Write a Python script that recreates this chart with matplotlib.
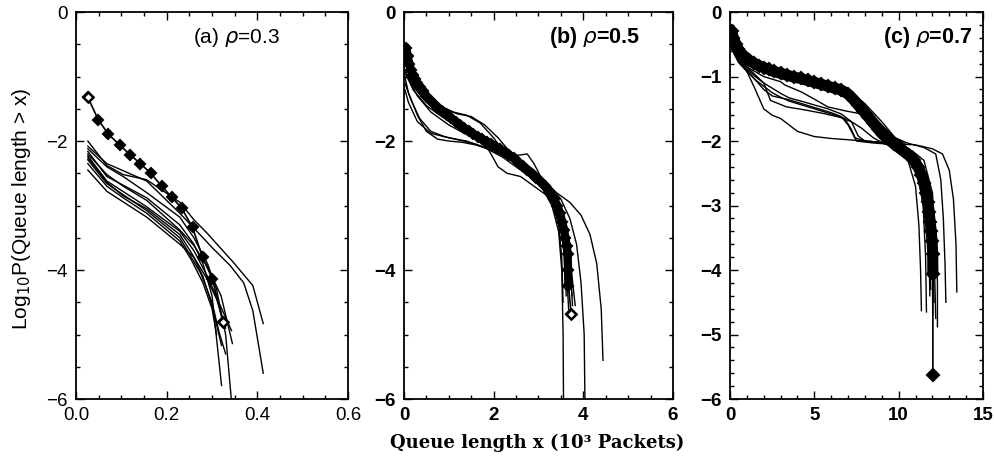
import matplotlib
matplotlib.use("Agg")
import matplotlib.pyplot as plt
from matplotlib.ticker import MultipleLocator, FixedLocator

# ---------------- data ----------------
# Panel (a) rho = 0.3  (x in 10^3 packets)
A_MEAN_X = [0.026, 0.049, 0.071, 0.096, 0.119, 0.142, 0.165, 0.189, 0.211, 0.233, 0.257, 0.279, 0.301, 0.324]
A_MEAN_Y = [-1.32, -1.67, -1.89, -2.06, -2.21, -2.35, -2.50, -2.70, -2.87, -3.04, -3.34, -3.80, -4.14, -4.81]

A_LINES_X = [
    [0.026, 0.068, 0.104, 0.156, 0.229, 0.260, 0.288, 0.347, 0.390, 0.413],
    [0.026, 0.068, 0.156, 0.229, 0.260, 0.300, 0.340, 0.370, 0.390, 0.413],
    [0.026, 0.068, 0.104, 0.156, 0.229, 0.260, 0.290, 0.310, 0.330, 0.345],
    [0.026, 0.068, 0.156, 0.229, 0.260, 0.280, 0.300, 0.321],
    [0.026, 0.068, 0.104, 0.156, 0.229, 0.260, 0.290, 0.320, 0.345],
    [0.026, 0.068, 0.156, 0.229, 0.260, 0.290, 0.315, 0.343],
    [0.026, 0.068, 0.104, 0.156, 0.229, 0.256, 0.280, 0.300, 0.321],
    [0.026, 0.068, 0.156, 0.229, 0.250, 0.275, 0.300, 0.315, 0.330],
    [0.026, 0.068, 0.104, 0.156, 0.229, 0.255, 0.280, 0.300, 0.310],
    [0.026, 0.068, 0.156, 0.229, 0.260, 0.290, 0.310, 0.330],
]
A_LINES_Y = [
    [-2.00, -2.38, -2.52, -2.60, -2.95, -3.22, -3.42, -3.88, -4.24, -4.83],
    [-2.08, -2.35, -2.62, -3.12, -3.35, -3.65, -3.93, -4.20, -4.63, -5.60],
    [-2.12, -2.40, -2.55, -2.80, -3.18, -3.50, -3.90, -4.30, -5.00, -6.20],
    [-2.16, -2.55, -2.88, -3.30, -3.60, -3.90, -4.40, -5.79],
    [-2.20, -2.52, -2.70, -2.92, -3.38, -3.62, -3.95, -4.40, -5.14],
    [-2.23, -2.62, -3.02, -3.40, -3.70, -4.10, -4.50, -4.94],
    [-2.26, -2.64, -2.85, -3.05, -3.45, -3.75, -4.10, -4.55, -5.17],
    [-2.29, -2.66, -3.08, -3.50, -3.75, -4.05, -4.50, -4.95, -5.30],
    [-2.35, -2.70, -2.88, -3.12, -3.55, -3.85, -4.20, -4.60, -5.00],
    [-2.45, -2.78, -3.18, -3.60, -3.80, -4.15, -4.45, -4.90],
]

# Panel (b) rho = 0.5
B_MEAN_X = [0.05, 0.08, 0.12, 0.16, 0.20, 0.25, 0.30, 0.36, 0.42, 0.50, 0.58, 0.66, 0.75, 0.85, 0.95,
            1.05, 1.15, 1.25, 1.35, 1.45, 1.55, 1.65, 1.75, 1.85, 1.95, 2.05, 2.15, 2.25, 2.35, 2.45,
            2.55, 2.65, 2.75, 2.85, 2.95, 3.05, 3.15, 3.25, 3.35, 3.42, 3.48, 3.53, 3.57, 3.60, 3.63,
            3.65, 3.66, 3.67, 3.73]
B_MEAN_Y = [-0.55, -0.68, -0.80, -0.90, -0.97, -1.04, -1.10, -1.16, -1.22, -1.30, -1.36, -1.42, -1.48, -1.54, -1.60,
            -1.65, -1.70, -1.75, -1.80, -1.85, -1.89, -1.93, -1.97, -2.01, -2.05, -2.09, -2.13, -2.17, -2.22, -2.27,
            -2.33, -2.39, -2.45, -2.51, -2.57, -2.63, -2.70, -2.79, -2.90, -3.00, -3.12, -3.25, -3.38, -3.50, -3.62,
            -3.75, -4.00, -4.25, -4.68]

B_LINES_X = [
    [0.02, 0.10, 0.30, 0.50, 0.75, 1.00, 1.30, 1.60, 2.00, 2.40, 2.80, 3.10, 3.30, 3.45, 3.52, 3.55, 3.56],
    [0.02, 0.15, 0.35, 0.60, 0.90, 1.20, 1.60, 2.00, 2.40, 2.80, 3.10, 3.30, 3.45, 3.52, 3.55],
    [0.02, 0.20, 0.50, 0.90, 1.20, 1.50, 1.80, 2.10, 2.40, 2.60, 2.90, 3.20, 3.50, 3.70, 3.85, 3.95, 4.02, 4.04],
    [0.02, 0.20, 0.50, 1.00, 1.50, 2.00, 2.50, 2.80, 3.10, 3.40, 3.70, 3.95, 4.15, 4.30, 4.40, 4.44],
    [0.02, 0.20, 0.50, 0.80, 1.20, 1.60, 2.00, 2.30, 2.55, 2.75, 2.90, 3.05, 3.30, 3.50, 3.62, 3.70, 3.78, 3.82],
    [0.02, 0.20, 0.50, 0.80, 1.20, 1.60, 1.90, 2.10, 2.30, 2.60, 2.90, 3.20, 3.45, 3.60, 3.70, 3.75],
    [0.02, 0.10, 0.30, 0.60, 1.00, 1.40, 1.80, 2.20, 2.60, 3.00, 3.30, 3.50, 3.60, 3.65, 3.68],
    [0.02, 0.20, 0.50, 0.80, 1.10, 1.40, 1.70, 2.00, 2.30, 2.60, 2.90, 3.20, 3.40, 3.55, 3.65, 3.72, 3.76],
    [0.02, 0.30, 0.60, 1.00, 1.40, 1.80, 2.20, 2.60, 3.00, 3.30, 3.50, 3.60, 3.65],
    [0.02, 0.30, 0.60, 1.00, 1.50, 2.00, 2.50, 3.00, 3.30, 3.50, 3.58, 3.62],
]
B_LINES_Y = [
    [-1.00, -1.25, -1.60, -1.85, -1.97, -2.00, -2.02, -2.06, -2.15, -2.30, -2.50, -2.75, -3.00, -3.40, -4.00, -5.00, -6.20],
    [-1.10, -1.35, -1.65, -1.85, -1.93, -1.98, -2.05, -2.15, -2.30, -2.50, -2.70, -2.95, -3.30, -3.80, -4.50],
    [-0.80, -1.10, -1.35, -1.50, -1.58, -1.62, -1.75, -1.95, -2.20, -2.30, -2.45, -2.65, -2.90, -3.20, -3.60, -4.20, -5.00, -6.20],
    [-0.90, -1.15, -1.40, -1.65, -1.85, -2.05, -2.25, -2.40, -2.60, -2.80, -2.95, -3.15, -3.45, -3.90, -4.60, -5.40],
    [-0.70, -1.00, -1.30, -1.50, -1.70, -1.90, -2.05, -2.20, -2.22, -2.20, -2.35, -2.55, -2.80, -3.10, -3.40, -3.80, -4.30, -4.55],
    [-0.90, -1.20, -1.45, -1.60, -1.78, -1.95, -2.15, -2.40, -2.50, -2.55, -2.70, -2.85, -3.10, -3.50, -4.00, -4.40],
    [-1.20, -1.40, -1.70, -1.88, -1.95, -2.00, -2.10, -2.25, -2.45, -2.65, -2.90, -3.30, -3.80, -4.30, -4.70],
    [-0.80, -1.05, -1.30, -1.45, -1.55, -1.60, -1.72, -1.95, -2.25, -2.40, -2.55, -2.75, -3.00, -3.30, -3.70, -4.10, -4.55],
    [-0.95, -1.30, -1.55, -1.75, -1.90, -2.02, -2.15, -2.35, -2.60, -2.85, -3.20, -3.60, -4.20],
    [-0.75, -1.15, -1.42, -1.65, -1.90, -2.08, -2.30, -2.60, -2.90, -3.30, -3.80, -4.40],
]

# Panel (c) rho = 0.7
C_MEAN_X = [0.10, 0.20, 0.35, 0.50, 0.70, 0.90, 1.10, 1.40, 1.70, 2.00, 2.30, 2.60, 3.00, 3.40, 3.80,
            4.20, 4.60, 5.00, 5.40, 5.80, 6.20, 6.60, 7.00, 7.30, 7.60, 7.90, 8.20, 8.50, 8.80, 9.10,
            9.40, 9.70, 10.00, 10.30, 10.60, 10.90, 11.15, 11.35, 11.50, 11.62, 11.72, 11.80, 11.87,
            11.93, 11.98, 12.02, 12.03, 12.03]
C_MEAN_Y = [-0.30, -0.40, -0.50, -0.58, -0.65, -0.70, -0.74, -0.79, -0.83, -0.86, -0.89, -0.92, -0.95, -0.98, -1.01,
            -1.03, -1.06, -1.09, -1.12, -1.15, -1.18, -1.21, -1.27, -1.35, -1.44, -1.53, -1.62, -1.72, -1.82, -1.90,
            -1.97, -2.04, -2.10, -2.16, -2.22, -2.30, -2.40, -2.52, -2.65, -2.80, -2.95, -3.10, -3.25,
            -3.40, -3.55, -3.75, -4.06, -5.62]

C_LINES_X = [
    [0.05, 0.5, 1.0, 1.5, 2.0, 2.5, 3.0, 3.5, 4.0, 5.0, 6.0, 7.0, 8.0, 9.0, 10.0, 10.5, 11.0, 11.2, 11.3, 11.35],
    [0.05, 0.5, 1.0, 1.5, 2.0, 2.5, 3.0, 3.5, 4.0, 5.0, 6.0, 6.6, 7.0, 7.4, 8.0, 9.0, 10.0, 10.6, 11.1, 11.45, 11.6, 11.65],
    [0.05, 0.5, 1.0, 1.5, 2.0, 2.5, 3.0, 3.5, 4.0, 5.0, 6.0, 6.8, 7.2, 7.5, 8.5, 9.5, 10.5, 11.2, 11.6, 11.8, 11.85],
    [0.05, 0.5, 1.0, 1.5, 2.0, 2.5, 3.0, 3.5, 4.2, 5.0, 5.8, 6.6, 7.2, 7.6, 8.0, 9.0, 10.0, 10.8, 11.5, 11.9, 12.0, 12.02],
    [0.05, 0.5, 1.0, 2.0, 3.0, 3.25, 4.24, 5.0, 5.8, 6.8, 7.6, 8.2, 8.76, 9.5, 10.3, 11.0, 11.6, 11.9, 12.05, 12.1],
    [0.05, 1.0, 2.0, 2.4, 3.35, 4.5, 5.5, 6.5, 7.2, 7.8, 8.5, 9.2, 10.0, 10.8, 11.5, 12.0, 12.2, 12.3, 12.3],
    [0.05, 0.5, 1.0, 2.0, 3.0, 4.0, 5.0, 6.0, 7.0, 8.0, 9.0, 9.8, 10.5, 11.5, 12.2, 12.5, 12.65, 12.75, 12.8],
    [0.05, 0.5, 1.0, 2.0, 3.0, 4.0, 5.0, 6.0, 7.0, 8.0, 9.0, 9.8, 10.4, 11.0, 12.0, 12.6, 13.0, 13.25, 13.4, 13.45],
    [0.05, 0.5, 1.0, 2.0, 3.0, 4.0, 5.0, 6.0, 7.0, 7.5, 8.0, 8.5, 9.0, 9.5, 10.0, 10.5, 11.0, 11.4, 11.7, 11.85, 11.9],
    [0.05, 0.5, 1.0, 2.0, 3.0, 4.0, 5.0, 6.0, 7.0, 7.5, 8.0, 8.5, 9.0, 9.5, 10.0, 10.6, 11.2, 11.7, 12.0, 12.15, 12.2],
]
C_LINES_Y = [
    [-0.50, -0.75, -0.92, -1.20, -1.50, -1.60, -1.65, -1.75, -1.85, -1.93, -1.96, -1.98, -2.00, -2.02, -2.10, -2.25, -2.70, -3.30, -4.00, -4.63],
    [-0.55, -0.78, -0.92, -1.05, -1.20, -1.30, -1.33, -1.36, -1.40, -1.48, -1.56, -1.62, -1.75, -1.95, -2.00, -2.02, -2.08, -2.20, -2.45, -3.00, -3.80, -4.65],
    [-0.50, -0.75, -0.90, -1.05, -1.15, -1.25, -1.32, -1.38, -1.42, -1.50, -1.58, -1.65, -1.82, -2.00, -2.03, -2.05, -2.15, -2.40, -2.90, -3.60, -4.40],
    [-0.45, -0.72, -0.88, -1.00, -1.10, -1.18, -1.26, -1.33, -1.38, -1.44, -1.50, -1.58, -1.70, -1.92, -2.00, -2.02, -2.08, -2.20, -2.50, -3.20, -4.00, -4.70],
    [-0.45, -0.70, -0.85, -1.00, -1.08, -1.13, -1.24, -1.35, -1.47, -1.53, -1.57, -1.62, -1.78, -2.00, -2.10, -2.30, -2.70, -3.30, -4.00, -4.50],
    [-0.50, -0.85, -1.10, -1.37, -1.47, -1.52, -1.57, -1.63, -1.70, -1.80, -1.95, -2.05, -2.10, -2.15, -2.30, -2.80, -3.50, -4.20, -4.88],
    [-0.35, -0.60, -0.75, -0.88, -0.96, -1.03, -1.10, -1.17, -1.27, -1.50, -1.78, -1.95, -2.03, -2.10, -2.20, -2.60, -3.20, -3.90, -4.50],
    [-0.30, -0.55, -0.72, -0.85, -0.93, -1.00, -1.06, -1.12, -1.20, -1.42, -1.70, -1.95, -2.05, -2.06, -2.12, -2.20, -2.45, -2.90, -3.60, -4.34],
    [-0.40, -0.65, -0.80, -0.92, -1.00, -1.06, -1.12, -1.18, -1.28, -1.40, -1.52, -1.65, -1.78, -1.90, -2.02, -2.15, -2.35, -2.70, -3.20, -3.80, -4.30],
    [-0.35, -0.60, -0.75, -0.86, -0.94, -1.00, -1.07, -1.14, -1.25, -1.35, -1.48, -1.62, -1.75, -1.88, -2.00, -2.15, -2.40, -2.90, -3.50, -4.20, -4.75],
]

A_XTICKS = [0.0, 0.2, 0.4, 0.6]
A_XTICKLABELS = ["0.0", "0.2", "0.4", "0.6"]
B_XTICKS = [0, 2, 4, 6]
C_XTICKS = [0, 5, 10, 15]
AB_YTICKS = [-6, -4, -2, 0]
AB_YTICKLABELS = ["\u22126", "\u22124", "\u22122", "0"]
C_YTICKS = [-6, -5, -4, -3, -2, -1, 0]
C_YTICKLABELS = ["\u22126", "\u22125", "\u22124", "\u22123", "\u22122", "\u22121", "0"]

TITLES = [r"(a) $\rho$=0.3", r"(b) $\rho$=0.5", r"(c) $\rho$=0.7"]

# ---------------- figure ----------------
plt.rcParams['mathtext.fontset'] = 'dejavusans'
fig = plt.figure(figsize=(9.94, 4.59), dpi=100)

H = 0.843
B0 = 0.1307
axA = fig.add_axes([0.0765, B0, 0.2736, H])
axB = fig.add_axes([0.4064, B0, 0.2706, H])
axC = fig.add_axes([0.7344, B0, 0.2545, H])

LW = 1.0
def draw_lines(ax, xs, ys):
    for x, y in zip(xs, ys):
        ax.plot(x, y, color='black', lw=LW, solid_joinstyle='round', zorder=2)

def draw_mean(ax, x, y, ms, band_lw, open_idx):
    if band_lw:
        ax.plot(x[:-1], y[:-1], color='black', lw=band_lw, solid_joinstyle='round',
                solid_capstyle='round', zorder=3)
    ax.plot(x, y, color='black', lw=1.2, marker='D', ms=ms, mfc='black', mec='black', mew=1.5, zorder=3)
    ox = [x[i] for i in open_idx]
    oy = [y[i] for i in open_idx]
    ax.plot(ox, oy, ls='none', marker='D', ms=ms, mfc='white', mec='black', mew=1.8, zorder=4)

def style(ax, xmin, xmax, xmaj, xminor, xticklabels, ymin, ymax, yticks, yticklabels, yminor, bold):
    ax.set_xlim(xmin, xmax)
    ax.set_ylim(ymin, ymax)
    ax.xaxis.set_major_locator(FixedLocator(xmaj))
    ax.xaxis.set_minor_locator(MultipleLocator(xminor))
    ax.yaxis.set_major_locator(FixedLocator(yticks))
    ax.yaxis.set_minor_locator(MultipleLocator(yminor))
    fw = 'bold' if bold else 'normal'
    ax.set_xticklabels(xticklabels, fontsize=13.5, fontweight=fw, family='Liberation Sans')
    ax.set_yticklabels(yticklabels, fontsize=13.5, fontweight=fw, family='Liberation Sans')
    ax.tick_params(which='both', direction='in', top=True, right=True, width=1.0, color='black')
    ax.tick_params(which='major', length=6, pad=6)
    ax.tick_params(which='minor', length=3)
    for s in ax.spines.values():
        s.set_linewidth(1.3)

# (a)
draw_lines(axA, A_LINES_X, A_LINES_Y)
draw_mean(axA, A_MEAN_X, A_MEAN_Y, 5.5, None, [0, len(A_MEAN_X) - 1])
style(axA, 0, 0.6, A_XTICKS, 0.05, A_XTICKLABELS, -6, 0, AB_YTICKS, AB_YTICKLABELS, 0.5, False)
axA.text(0.59, 0.933, TITLES[0], transform=axA.transAxes, ha='center', va='center', fontsize=15, family='Liberation Sans')

# (b)
draw_lines(axB, B_LINES_X, B_LINES_Y)
draw_mean(axB, B_MEAN_X, B_MEAN_Y, 5.5, 6, [len(B_MEAN_X) - 1])
style(axB, 0, 6, B_XTICKS, 0.5, [str(v) for v in B_XTICKS], -6, 0, AB_YTICKS, AB_YTICKLABELS, 0.5, True)
axB.text(0.71, 0.933, TITLES[1], transform=axB.transAxes, ha='center', va='center', fontsize=15.5, fontweight='bold', family='Liberation Sans')

# (c)
draw_lines(axC, C_LINES_X, C_LINES_Y)
draw_mean(axC, C_MEAN_X, C_MEAN_Y, 6.5, 8, [])
style(axC, 0, 15, C_XTICKS, 1, [str(v) for v in C_XTICKS], -6, 0, C_YTICKS, C_YTICKLABELS, 0.2, True)
axC.text(0.78, 0.935, TITLES[2], transform=axC.transAxes, ha='center', va='center', fontsize=15.5, fontweight='bold', family='Liberation Sans')

# labels
fig.text(0.022, 0.545, r"Log$_{10}$P(Queue length > x)", rotation=90, ha='center', va='center',
         fontsize=15, family='Liberation Sans')
fig.text(0.540, 0.036, "Queue length x (10\u00b3 Packets)", ha='center', va='center',
         fontsize=13, fontweight='bold', family='DejaVu Serif')

fig.savefig("out.png", dpi=100)
